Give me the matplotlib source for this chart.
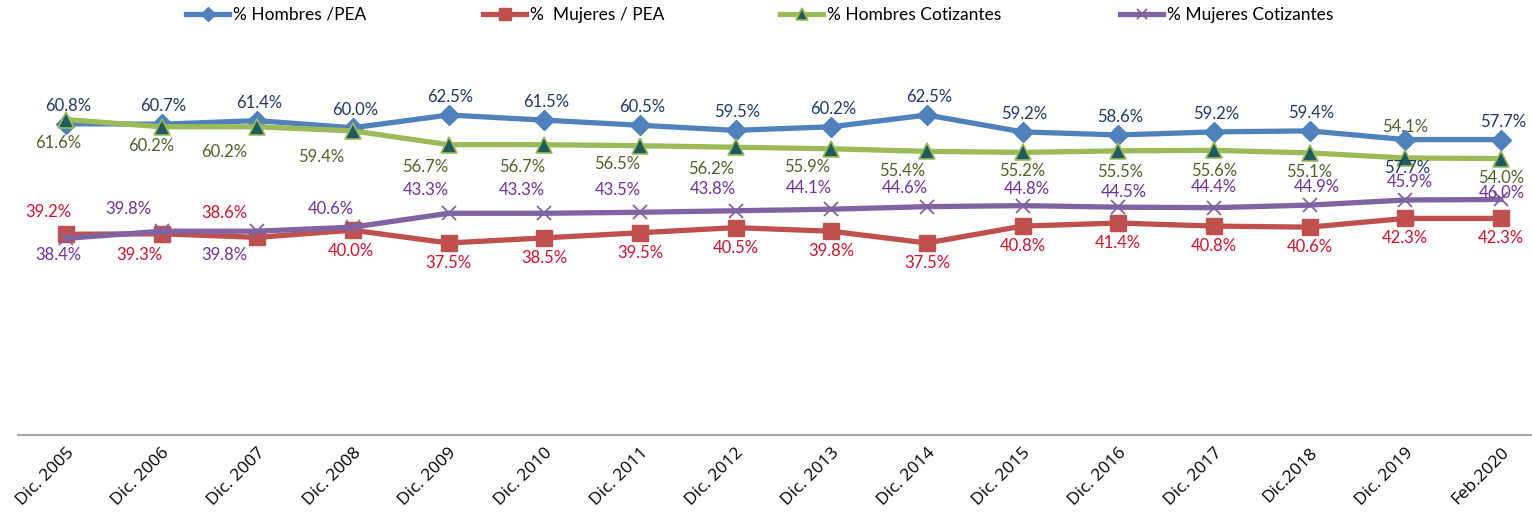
import numpy as np
import matplotlib
matplotlib.use("Agg")
import matplotlib.pyplot as plt

periodos = ["Dic. 2005", "Dic. 2006", "Dic. 2007", "Dic. 2008", "Dic. 2009", "Dic. 2010",
            "Dic. 2011", "Dic. 2012", "Dic. 2013", "Dic. 2014", "Dic. 2015", "Dic. 2016",
            "Dic. 2017", "Dic.2018", "Dic. 2019", "Feb.2020"]

hombres_pea = [60.8, 60.7, 61.4, 60.0, 62.5, 61.5, 60.5, 59.5, 60.2, 62.5, 59.2, 58.6, 59.2, 59.4, 57.7, 57.7]
mujeres_pea = [39.2, 39.3, 38.6, 40.0, 37.5, 38.5, 39.5, 40.5, 39.8, 37.5, 40.8, 41.4, 40.8, 40.6, 42.3, 42.3]
hombres_cot = [61.6, 60.2, 60.2, 59.4, 56.7, 56.7, 56.5, 56.2, 55.9, 55.4, 55.2, 55.5, 55.6, 55.1, 54.1, 54.0]
mujeres_cot = [38.4, 39.8, 39.8, 40.6, 43.3, 43.3, 43.5, 43.8, 44.1, 44.6, 44.8, 44.5, 44.4, 44.9, 45.9, 46.0]

# label offsets in pixels (dx, dy), dy positive = up
off_hp = [(2, 18)] * 14 + [(2, -28), (2, 18)]
off_mp = [(-17, 22), (-22, -21), (-33, 24), (-2, -21)] + [(0, -20)] * 12
off_hc = [(-8, -23), (-10, -19), (-33, -25), (-32, -26), (-23, -22), (-22, -22), (-23, -18),
          (-24, -22), (-24, -18), (-25, -20), (0, -19), (2, -21), (0, -21), (0, -19), (0, 31), (0, -19)]
off_mc = [(-7, -17), (-33, 22), (-33, -24), (-22, 18), (-23, 23), (-22, 23), (-22, 22), (-23, 22),
          (-22, 21), (-22, 19), (4, 17), (6, 15), (0, 21), (7, 18), (5, 18), (1, 6)]

plt.rcParams['font.family'] = ['Lato', 'DejaVu Sans']

fig = plt.figure(figsize=(15.32, 5.16), dpi=100)
ax = fig.add_axes([18 / 1532, 81 / 516, 16 * 95.67 / 1532, 384 / 516])

x = np.arange(len(periodos))
series = [
    (hombres_pea, "% Hombres /PEA", "#4F81BD", dict(marker="D", markersize=10, markerfacecolor="#4F81BD",
                                                     markeredgecolor="#4F81BD"), "#1F3864", off_hp),
    (mujeres_pea, "%  Mujeres / PEA", "#C0504D", dict(marker="s", markersize=11.5, markerfacecolor="#C0504D",
                                                       markeredgecolor="#C0504D"), "#D0142C", off_mp),
    (hombres_cot, "% Hombres Cotizantes", "#9BBB59", dict(marker="^", markersize=11.5, markerfacecolor="#1F5B5E",
                                                           markeredgecolor="#9BBB59", markeredgewidth=1.2),
     "#4F6228", off_hc),
    (mujeres_cot, "% Mujeres Cotizantes", "#8064A2", dict(marker="x", markersize=10.5, markeredgewidth=1.3,
                                                           markeredgecolor="#8064A2"), "#7030A0", off_mc),
]

handles = []
for vals, name, color, mk, tcolor, offs in series:
    h, = ax.plot(x, vals, color=color, linewidth=3.8, label=name, **mk)
    handles.append(h)
    for xi, v, (dx, dy) in zip(x, vals, offs):
        ax.annotate(f"{v:.1f}%", (xi, v), xytext=(dx, dy), textcoords="offset pixels",
                    ha="center", va="center", fontsize=12, color=tcolor)

ax.set_xlim(-0.5, len(periodos) - 0.5)
ax.set_ylim(0, 75)
ax.set_yticks([])
ax.set_xticks(x)
ax.set_xticklabels(periodos, rotation=45, ha="right", rotation_mode="anchor",
                   fontsize=12.5, family=["Open Sans", "DejaVu Sans"])
ax.tick_params(axis="x", length=0, pad=7)
for s in ["top", "left", "right"]:
    ax.spines[s].set_visible(False)
ax.spines["bottom"].set_color("#A6A6A6")
ax.spines["bottom"].set_linewidth(1.5)

legend_x = [186, 483, 780, 1120]
for h, lx in zip(handles, legend_x):
    fig.legend(handles=[h], loc="center left", bbox_to_anchor=(lx / 1532, 1 - 15 / 516),
               frameon=False, fontsize=12.5, handlelength=2.5, handletextpad=0.2, borderpad=0,
               borderaxespad=0, markerscale=0.75)

fig.savefig("out.png", dpi=100)
